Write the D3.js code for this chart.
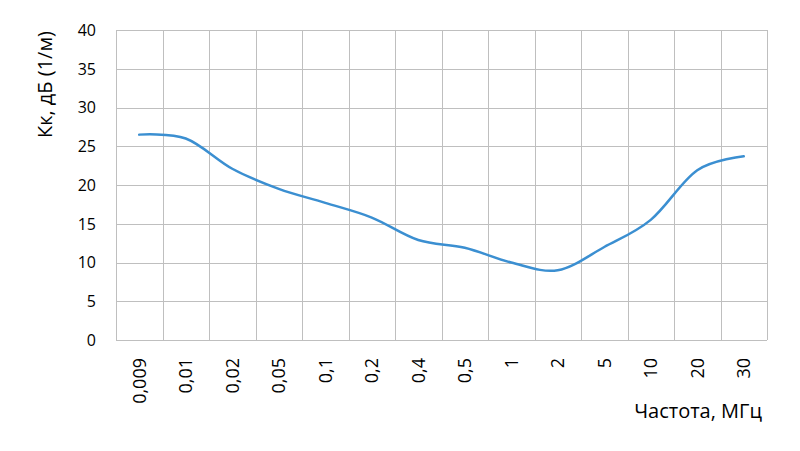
<!DOCTYPE html>
<html>
<head>
<meta charset="utf-8">
<script src="https://cdn.jsdelivr.net/npm/d3@7"></script>
<style>
	body { margin: 0; background: #fff; }
	text { font-family: "Open Sans", sans-serif; fill: #000; }
</style>
</head>
<body>
<svg id="chart"></svg>
<script>
// частоты (категории) и значения Кк
var freqLabels = ['0,009', '0,01', '0,02', '0,05', '0,1', '0,2', '0,4', '0,5', '1', '2', '5', '10', '20', '30'];
var kkValues = [26.5, 26.0, 22.1, 19.5, 17.7, 15.8, 12.9, 11.9, 10.0, 9.0, 12.0, 15.5, 21.9, 23.7];
var yTicks = [0, 5, 10, 15, 20, 25, 30, 35, 40];

var width = 800, height = 451;
var margin = {top: 30, right: 33, bottom: 111, left: 116};
var w = width - margin.left - margin.right,
	h = height - margin.top - margin.bottom;

var svg = d3.select('#chart')
	.attr('width', width)
	.attr('height', height);

var g = svg.append('g')
	.attr('transform', 'translate(' + margin.left + ',' + margin.top + ')');

var x = d3.scaleBand()
	.domain(freqLabels)
	.range([0, w]);

var y = d3.scaleLinear()
	.domain([0, 40])
	.range([h, 0]);

// horizontal grid
g.selectAll('.hgrid')
	.data(yTicks)
	.enter()
	.append('line')
	.attr('class', 'hgrid')
	.attr('x1', 0)
	.attr('x2', w)
	.attr('y1', function(d) { return Math.round(y(d)) + 0.5; })
	.attr('y2', function(d) { return Math.round(y(d)) + 0.5; })
	.style('stroke', '#bfbfbf')
	.style('stroke-width', 1);

// vertical grid at band boundaries
var bounds = freqLabels.map(function(d) { return x(d); }).concat([w]);
g.selectAll('.vgrid')
	.data(bounds)
	.enter()
	.append('line')
	.attr('class', 'vgrid')
	.attr('x1', function(d) { return Math.round(d) + 0.5; })
	.attr('x2', function(d) { return Math.round(d) + 0.5; })
	.attr('y1', 0)
	.attr('y2', h)
	.style('stroke', '#bfbfbf')
	.style('stroke-width', 1);

// y tick labels
g.selectAll('.ylab')
	.data(yTicks)
	.enter()
	.append('text')
	.attr('class', 'ylab')
	.attr('x', -20)
	.attr('y', function(d) { return y(d); })
	.attr('dy', '0.36em')
	.attr('text-anchor', 'end')
	.style('font-size', '16px')
	.text(function(d) { return d; });

// x tick labels, rotated
g.selectAll('.xlab')
	.data(freqLabels)
	.enter()
	.append('text')
	.attr('class', 'xlab')
	.attr('transform', function(d) {
		return 'translate(' + (x(d) + x.bandwidth() / 2) + ',' + (h + 18) + ') rotate(-90)';
	})
	.attr('dy', '0.36em')
	.attr('text-anchor', 'end')
	.style('font-size', '18px')
	.text(function(d) { return d; });

// line
var line = d3.line()
	.x(function(d, i) { return x(freqLabels[i]) + x.bandwidth() / 2; })
	.y(function(d) { return y(d); })
	.curve(d3.curveCardinal.tension(0));

g.append('path')
	.datum(kkValues)
	.attr('d', line)
	.style('fill', 'none')
	.style('stroke', '#3b8fd1')
	.style('stroke-width', 2.5)
	.style('stroke-linecap', 'round');

// axis titles
svg.append('text')
	.attr('transform', 'translate(52,31) rotate(-90)')
	.attr('text-anchor', 'end')
	.style('font-size', '20px')
	.text('Кк, дБ (1/м)');

svg.append('text')
	.attr('x', 762)
	.attr('y', 418)
	.attr('text-anchor', 'end')
	.style('font-size', '20px')
	.text('Частота, МГц');
</script>
</body>
</html>
